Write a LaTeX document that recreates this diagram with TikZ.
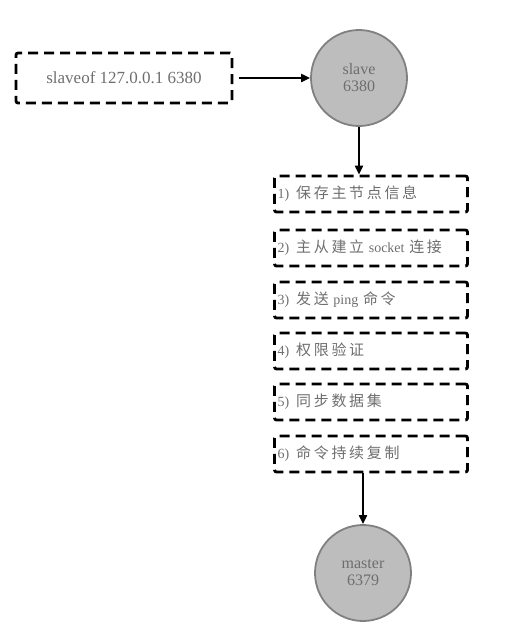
\documentclass[tikz,border=0pt]{standalone}
\usepackage{fontspec}
\setmainfont{Liberation Serif}
\newfontfamily\cjk[LetterSpace=18,Scale=1.07]{Noto Sans CJK SC}
\usetikzlibrary{arrows.meta}
\definecolor{txtgray}{HTML}{6E6E6E}
\definecolor{circfill}{HTML}{BDBDBD}
\definecolor{circdraw}{HTML}{808080}
\tikzset{
  dashbox/.style={draw=black, line width=2.8pt, dash pattern=on 10pt off 6pt, rounded corners=2pt, text=txtgray},
  stepbox/.style={dashbox, minimum width=193pt, minimum height=36pt, inner sep=3pt, font=\fontsize{14}{16}\selectfont, text width=187pt, align=left},
  circ/.style={circle, draw=circdraw, line width=1.8pt, fill=circfill, minimum size=96pt, inner sep=0pt, text=txtgray, align=center, font=\fontsize{16}{17}\selectfont},
  conn/.style={-{Triangle[length=9pt,width=8pt]}, line width=2pt, black}
}
\begin{document}
\begin{tikzpicture}[x=1pt,y=-1pt]
\useasboundingbox (0,0) rectangle (526,625);
\node[dashbox, minimum width=216pt, minimum height=50pt, font=\fontsize{17}{19}\selectfont] (cmd) at (124,78) {slaveof 127.0.0.1 6380};
\node[circ] (slave) at (359,78) {slave\\6380};
\node[stepbox] (s1) at (371,194) {1)\, {\cjk 保存主节点信息}};
\node[stepbox] (s2) at (371,248) {2)\, {\cjk 主从建立} socket {\cjk 连接}};
\node[stepbox] (s3) at (371,300) {3)\, {\cjk 发送} ping {\cjk 命令}};
\node[stepbox] (s4) at (371,351) {4)\, {\cjk 权限验证}};
\node[stepbox] (s5) at (371,402) {5)\, {\cjk 同步数据集}};
\node[stepbox] (s6) at (371,454) {6)\, {\cjk 命令持续复制}};
\node[circ] (master) at (363,573) {master\\6379};
\draw[conn] (cmd.east) ++(6,0) -- (slave.west);
\draw[conn] (slave.south) -- (s1.north -| slave.south);
\draw[conn] (s6.south -| master.north) -- (master.north);
\end{tikzpicture}
\end{document}
